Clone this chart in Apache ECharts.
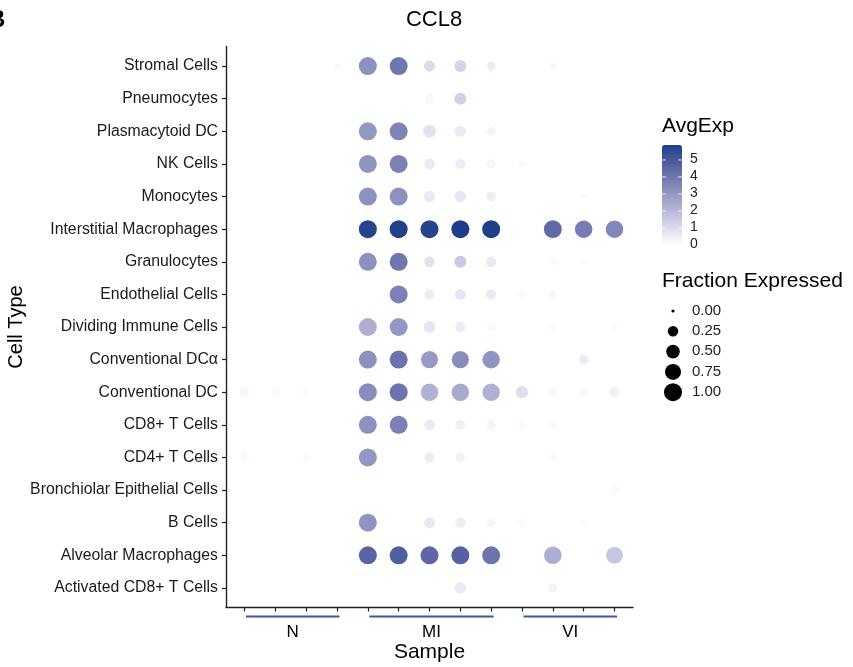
<!DOCTYPE html>
<html>
<head>
<meta charset="utf-8">
<title>CCL8</title>
<script src="https://cdn.jsdelivr.net/npm/echarts@6/dist/echarts.min.js"></script>
<style>
  html, body { margin: 0; padding: 0; background: #ffffff; }
  #chart { width: 853px; height: 667px; }
</style>
</head>
<body>
<div id="chart"></div>
<script>
const _ = null;

// Cell types, listed top to bottom
const cellTypes = [
  'Stromal Cells', 'Pneumocytes', 'Plasmacytoid DC', 'NK Cells', 'Monocytes',
  'Interstitial Macrophages', 'Granulocytes', 'Endothelial Cells',
  'Dividing Immune Cells', 'Conventional DCα', 'Conventional DC',
  'CD8+ T Cells', 'CD4+ T Cells', 'Bronchiolar Epithelial Cells', 'B Cells',
  'Alveolar Macrophages', 'Activated CD8+ T Cells'
];

// Thirteen samples: N (4), MI (5), VI (4)
const samples = ['N1', 'N2', 'N3', 'N4', 'MI1', 'MI2', 'MI3', 'MI4', 'MI5', 'VI1', 'VI2', 'VI3', 'VI4'];
const groupNames = ['N', 'MI', 'VI'];
const groupFirst = [0, 4, 9];
const groupLast = [3, 8, 12];

// Average expression per cell type (rows) and sample (columns)
const avgExp = [
  [_, _, _, 0.2, 3.2, 4.0, 1.0, 1.2, 0.5, _, 0.2, _, _],
  [_, _, _, _, _, _, 0.2, 1.3, _, _, _, _, _],
  [_, _, _, _, 3.0, 3.6, 0.8, 0.6, 0.3, _, _, _, _],
  [_, _, _, _, 3.1, 3.7, 0.6, 0.5, 0.25, 0.15, _, _, _],
  [_, _, _, _, 3.2, 3.2, 0.6, 0.7, 0.5, _, _, 0.15, _],
  [_, _, _, _, 5.7, 5.8, 5.7, 5.88, 5.85, _, 4.4, 3.8, 3.5],
  [_, _, _, _, 3.2, 4.0, 0.8, 1.5, 0.6, _, 0.1, 0.1, _],
  [_, _, _, _, _, 3.7, 0.5, 0.7, 0.6, 0.1, 0.2, _, _],
  [_, _, _, _, 2.3, 3.0, 0.7, 0.5, 0.15, _, 0.1, _, 0.1],
  [_, _, _, _, 3.2, 4.1, 2.9, 3.3, 3.1, _, _, 0.6, _],
  [0.25, 0.1, 0.1, _, 3.3, 4.1, 2.2, 2.4, 2.2, 0.9, 0.2, 0.2, 0.4],
  [_, _, _, _, 3.2, 3.7, 0.55, 0.4, 0.3, 0.1, 0.15, _, _],
  [0.15, _, 0.1, _, 3.0, _, 0.5, 0.35, _, _, 0.15, _, _],
  [_, _, _, _, _, _, _, _, _, _, _, _, 0.15],
  [_, _, _, _, 3.1, _, 0.65, 0.5, 0.3, 0.15, _, 0.12, _],
  [_, _, _, _, 4.6, 4.8, 4.5, 4.7, 4.1, _, 2.3, _, 1.6],
  [_, _, _, _, _, _, _, 0.6, _, _, 0.3, _, _]
];

// Fraction of cells expressing, same layout
const fracExp = [
  [_, _, _, 0.03, 1.0, 1.0, 0.28, 0.36, 0.16, _, 0.07, _, _],
  [_, _, _, _, _, _, 0.21, 0.36, _, _, _, _, _],
  [_, _, _, _, 1.0, 1.0, 0.42, 0.31, 0.13, _, _, _, _],
  [_, _, _, _, 1.0, 1.0, 0.26, 0.24, 0.19, 0.11, _, _, _],
  [_, _, _, _, 1.0, 1.0, 0.31, 0.31, 0.19, _, _, 0.05, _],
  [_, _, _, _, 1.0, 1.0, 1.0, 1.0, 1.0, _, 0.98, 0.93, 0.93],
  [_, _, _, _, 1.0, 1.0, 0.24, 0.36, 0.24, _, 0.11, 0.08, _],
  [_, _, _, _, _, 1.0, 0.24, 0.27, 0.24, 0.11, 0.11, _, _],
  [_, _, _, _, 1.0, 1.0, 0.36, 0.24, 0.18, _, 0.08, _, 0.08],
  [_, _, _, _, 1.0, 1.0, 0.88, 0.9, 0.94, _, _, 0.18, _],
  [0.16, 0.16, 0.11, _, 1.0, 1.0, 0.92, 0.92, 0.92, 0.39, 0.17, 0.11, 0.24],
  [_, _, _, _, 1.0, 1.0, 0.27, 0.24, 0.17, 0.11, 0.11, _, _],
  [0.17, _, 0.11, _, 1.0, _, 0.24, 0.18, _, _, 0.08, _, _],
  [_, _, _, _, _, _, _, _, _, _, _, _, 0.24],
  [_, _, _, _, 1.0, _, 0.27, 0.24, 0.15, 0.11, _, 0.08, _],
  [_, _, _, _, 1.0, 1.0, 1.0, 1.0, 1.0, _, 0.94, _, 0.85],
  [_, _, _, _, _, _, _, 0.31, _, _, 0.18, _, _]
];

// Legend entries
const expTicks = [0, 1, 2, 3, 4, 5];
const expMax = 5.88;
const fracBreaks = [0, 0.25, 0.5, 0.75, 1.0];
const fracBreakLabels = ['0.00', '0.25', '0.50', '0.75', '1.00'];

// Colour ramp white -> navy (stops spaced evenly in Lab lightness)
const ramp = ['#ffffff', '#d4d5e7', '#abacd0', '#8186b8', '#5561a1', '#1f3e88'];

const FONT = '"Liberation Sans", Arial, Helvetica, sans-serif';
const dotDiameter = f => 3 + 15 * Math.sqrt(f);

const points = [];
avgExp.forEach((row, r) => {
  row.forEach((v, c) => {
    if (v !== null) points.push([c, r, v, fracExp[r][c]]);
  });
});

const nCols = samples.length;
const nRows = cellTypes.length;
const colIdx = samples.map((s, i) => i);
const rowIdx = cellTypes.map((s, i) => i);

// Plot region
const G = { left: 226, top: 46.5, width: 407, height: 561, containLabel: false, outerBoundsMode: 'none' };

// Colour legend geometry
const CB = { left: 662, top: 145, w: 20, h: 100 };

const graphics = [];
graphics.push({
  type: 'text', left: -12, top: 8,
  style: { text: 'B', font: 'bold 24px ' + FONT, fill: '#000' }
});
graphics.push({
  type: 'text', left: 662, top: 116,
  style: { text: 'AvgExp', font: '21px ' + FONT, fill: '#000' }
});
expTicks.forEach(v => {
  const y = CB.top + CB.h * (1 - v / expMax);
  graphics.push({
    type: 'text', left: 690, top: y - 8,
    style: { text: String(v), font: '14px ' + FONT, fill: '#222' }
  });
  if (v > 0) {
    graphics.push({ type: 'line', shape: { x1: CB.left, y1: y, x2: CB.left + 4, y2: y },
      style: { stroke: 'rgba(255,255,255,0.8)', lineWidth: 1 }, z: 100 });
    graphics.push({ type: 'line', shape: { x1: CB.left + CB.w - 4, y1: y, x2: CB.left + CB.w, y2: y },
      style: { stroke: 'rgba(255,255,255,0.8)', lineWidth: 1 }, z: 100 });
  }
});
graphics.push({
  type: 'text', left: 662, top: 271,
  style: { text: 'Fraction Expressed', font: '21px ' + FONT, fill: '#000' }
});
fracBreaks.forEach((f, i) => {
  const y = 311 + 20.3 * i;
  graphics.push({
    type: 'circle', shape: { cx: 673, cy: y, r: f === 0 ? 1.6 : dotDiameter(f) / 2 },
    style: { fill: '#000' }
  });
  graphics.push({
    type: 'text', left: 692, top: y - 8,
    style: { text: fracBreakLabels[i], font: '15px ' + FONT, fill: '#222' }
  });
});

const chart = echarts.init(document.getElementById('chart'), null, { renderer: 'canvas' });

chart.setOption({
  backgroundColor: '#ffffff',
  animation: false,
  title: {
    text: 'CCL8', left: 429, top: 4, textAlign: 'center',
    textStyle: { fontFamily: FONT, fontSize: 22, fontWeight: 'normal', color: '#000' }
  },
  grid: G,
  xAxis: {
    type: 'value', min: -0.6, max: nCols - 0.4,
    name: 'Sample', nameLocation: 'middle', nameGap: 34,
    nameTextStyle: { fontFamily: FONT, fontSize: 21, color: '#000' },
    axisLine: { show: true, onZero: false, lineStyle: { color: '#222', width: 1.4 } },
    axisTick: { show: true, length: 4, customValues: colIdx, lineStyle: { color: '#222', width: 1.2 } },
    axisLabel: { show: false },
    splitLine: { show: false }
  },
  yAxis: {
    type: 'value', inverse: true, min: -0.6, max: nRows - 0.4,
    name: 'Cell Type', nameLocation: 'middle', nameGap: 194, nameRotate: 90,
    nameTextStyle: { fontFamily: FONT, fontSize: 20, color: '#000' },
    axisLine: { show: true, onZero: false, lineStyle: { color: '#222', width: 1.4 } },
    axisTick: { show: true, length: 4, customValues: rowIdx, lineStyle: { color: '#222', width: 1.2 } },
    axisLabel: {
      show: true, customValues: rowIdx, margin: 8,
      formatter: v => cellTypes[Math.round(v)] || '',
      fontFamily: FONT, fontSize: 15.8, color: '#1a1a1a'
    },
    splitLine: { show: false }
  },
  visualMap: {
    type: 'continuous', min: 0, max: expMax, dimension: 2, seriesIndex: 0,
    orient: 'vertical', left: CB.left, top: CB.top, itemWidth: CB.w, itemHeight: CB.h,
    padding: 0, calculable: false, hoverLink: false, realtime: false,
    inRange: { color: ramp },
    textStyle: { color: 'transparent' }
  },
  graphic: graphics,
  series: [
    {
      type: 'scatter',
      data: points,
      symbol: 'circle',
      symbolSize: val => dotDiameter(val[3]),
      itemStyle: { opacity: 1 },
      emphasis: { disabled: true },
      z: 3
    },
    {
      type: 'custom',
      coordinateSystem: 'cartesian2d',
      clip: false,
      silent: true,
      data: groupNames.map((g, i) => [groupFirst[i], groupLast[i], i]),
      renderItem: (params, api) => {
        const a = api.coord([api.value(0), nRows - 0.4]);
        const b = api.coord([api.value(1), 0]);
        const y = a[1] + 9;
        const name = groupNames[api.value(2)];
        return {
          type: 'group',
          children: [
            { type: 'line', shape: { x1: a[0] + 1.5, y1: y, x2: b[0] + 2.5, y2: y },
              style: { stroke: '#3c5a98', lineWidth: 1.8 } },
            { type: 'text', x: (a[0] + b[0]) / 2 + 2, y: y + 16,
              style: { text: name, font: '17px ' + FONT, fill: '#000', align: 'center', verticalAlign: 'middle' } }
          ]
        };
      }
    }
  ]
});
</script>
</body>
</html>
